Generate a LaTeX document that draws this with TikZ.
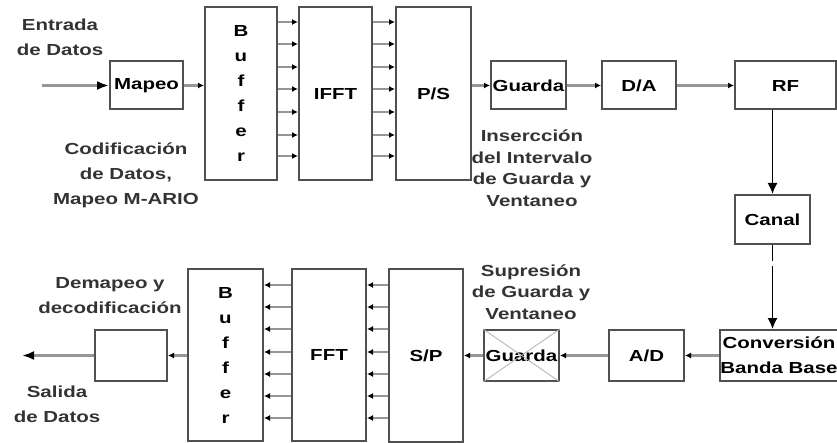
\documentclass[tikz,border=0pt]{standalone}
\usepackage{fontspec}
\usetikzlibrary{positioning, arrows.meta, calc}
\newfontfamily\diagfont{Liberation Sans}[FakeStretch=1.28]
\definecolor{edge}{RGB}{80, 80, 80}
\definecolor{wiregray}{RGB}{150, 150, 150}
\definecolor{crossgray}{RGB}{175, 175, 175}

\begin{document}
\begin{tikzpicture}[
    x=1pt, y=-1pt,
    blk/.style={
        rectangle, draw=edge, line width=2pt, inner sep=0pt,
        font=\diagfont\bfseries\fontsize{16}{25}\selectfont, align=center,
    },
    tall/.style={blk, minimum width=73pt, minimum height=173pt},
    unit/.style={blk, minimum width=74pt, minimum height=48pt},
    wire/.style={draw=wiregray, line width=2.6pt,
        -{Latex[length=6pt, width=6pt, color=black]}},
    bigwire/.style={draw=wiregray, line width=2.8pt,
        -{Latex[length=12pt, width=9pt, color=black]}},
    drop/.style={draw=black, line width=1.6pt,
        -{Latex[length=11pt, width=10pt]}},
    note/.style={font=\diagfont\bfseries\fontsize{16}{25}\selectfont,
        align=center, text=black!80},
]
\useasboundingbox (0,0) rectangle (837,443);

% --- Transmitter row ---
\node[unit, minimum width=73pt] (mapeo) at (146.5,85.5) {Mapeo};
\node[tall, minimum width=72pt] (bufA) at (241,93.5)
    {\fontsize{16}{26}\selectfont B\\u\\f\\f\\e\\r};
\node[tall] (ifft) at (335.5,93.5) {IFFT};
\node[tall, minimum width=75pt] (ps) at (433.5,93.5) {P/S};
\node[unit, minimum width=75pt] (guardA) at (528.5,85.5) {Guarda};
\node[unit] (da) at (639,85.5) {D/A};
\node[unit, minimum width=101pt] (rf) at (785.5,85.5) {RF};

% --- Channel ---
\node[unit, minimum width=75pt, minimum height=49pt] (canal) at (772.5,219.5) {Canal};

% --- Receiver row ---
\node[unit, minimum width=116pt, minimum height=51pt] (conv) at (779,355.5)
    {\fontsize{16}{23}\selectfont Conversión\\Banda Base};
\node[unit, minimum width=75pt, minimum height=51pt] (ad) at (646.5,355.5) {A/D};
\node[unit, minimum width=75pt, minimum height=51pt] (guardB) at (521.5,355.5) {Guarda};
\node[tall, minimum width=74pt, minimum height=172pt] (sp) at (426,355.5) {S/P};
\node[tall, minimum width=74pt, minimum height=172pt] (fft) at (329,355) {FFT};
\node[tall, minimum width=75pt, minimum height=172pt] (bufB) at (225.5,355)
    {\fontsize{16}{25}\selectfont B\\u\\f\\f\\e\\r};
\node[unit, minimum width=72pt, minimum height=51pt] (outbox) at (131,355.5) {};

% --- Labels ---
\node[note] (entrada) at (60,37.5) {Entrada\\de Datos};
\node[note] (codif) at (126,175) {Codificación\\de Datos,\\Mapeo M-ARIO};
\node[note, font=\diagfont\bfseries\fontsize{16}{21.5}\selectfont] (inserc) at (532,168)
    {Insercción\\del Intervalo\\de Guarda y\\Ventaneo};
\node[note, font=\diagfont\bfseries\fontsize{16}{21.5}\selectfont] (supres) at (531,292)
    {Supresión\\de Guarda y\\Ventaneo};
\node[note] (demap) at (110,295.5) {Demapeo y\\decodificación};
\node[note] (salida) at (57,404.5) {Salida\\de Datos};

% --- Guard suppression cross ---
\draw[crossgray, line width=0.8pt] (guardB.north west) -- (guardB.south east)
    (guardB.north east) -- (guardB.south west);

% --- Transmitter links ---
\coordinate (datain) at (42,85.5);
\draw[bigwire] (datain) -- (mapeo.west);
\draw[wire] (mapeo.east) -- (mapeo.east -| bufA.west);
\foreach \y in {22,44,67,89,112,135,156} {
    \draw[wire] (bufA.east |- 0,\y) -- (ifft.west |- 0,\y);
    \draw[wire] (ifft.east |- 0,\y) -- (ps.west |- 0,\y);
}
\draw[wire] (guardA.west -| ps.east) -- (guardA.west);
\draw[wire] (guardA.east) -- (da.west);
\draw[wire] (da.east) -- (rf.west);

% --- Channel links ---
\draw[drop] (rf.south -| canal.north) -- (canal.north);
\draw[drop, dash pattern=on 16pt off 5pt on 200pt] (canal.south) -- (canal.south |- conv.north);

% --- Receiver links ---
\draw[wire] (conv.west |- ad.east) -- (ad.east);
\draw[wire] (ad.west) -- (guardB.east);
\draw[wire] (guardB.west) -- (guardB.west -| sp.east);
\foreach \y in {285,307,329,352,374,396,418} {
    \draw[wire] (sp.west |- 0,\y) -- (fft.east |- 0,\y);
    \draw[wire] (fft.west |- 0,\y) -- (bufB.east |- 0,\y);
}
\draw[wire] (bufB.west |- outbox.east) -- (outbox.east);
\coordinate (dataout) at (22,355.5);
\draw[bigwire] (outbox.west) -- (dataout);

\end{tikzpicture}
\end{document}
